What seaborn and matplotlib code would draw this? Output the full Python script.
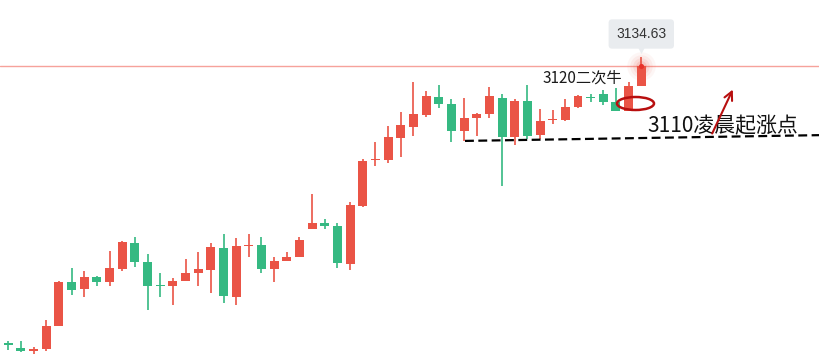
# candlestick chart with hand-drawn style notes (3120 / 3110 levels)

import matplotlib
matplotlib.use("Agg")
import matplotlib.pyplot as plt
from matplotlib.patches import Ellipse
import numpy as np
import pandas as pd
import seaborn as sns

# --- data (index points) ---
opens = [3043.3, 3041.6, 3040.6, 3041.2, 3048.8, 3063.3, 3061.0, 3065.0, 3063.4, 3067.7,
         3076.2, 3069.9, 3062.3, 3062.0, 3063.8, 3066.3, 3067.4, 3074.6, 3058.5, 3075.3,
         3075.5, 3067.7, 3070.3, 3071.6, 3080.8, 3082.8, 3081.8, 3069.3, 3088.4, 3103.5,
         3103.6, 3110.9, 3114.5, 3118.4, 3124.4, 3122.1, 3113.2, 3117.5, 3118.8, 3124.1,
         3111.2, 3123.1, 3111.8, 3116.7, 3116.8, 3121.1, 3124.1, 3125.4, 3122.7, 3119.9,
         3128.0]
highs = [3043.9, 3043.9, 3041.9, 3050.8, 3063.7, 3068.0, 3067.0, 3065.3, 3073.6, 3076.9,
         3078.2, 3072.6, 3066.3, 3064.7, 3070.9, 3073.2, 3076.2, 3079.2, 3077.9, 3079.2,
         3078.2, 3071.6, 3073.2, 3078.2, 3092.4, 3084.1, 3082.8, 3089.7, 3103.9, 3109.5,
         3114.8, 3119.4, 3129.3, 3126.4, 3128.4, 3123.7, 3124.1, 3119.1, 3127.7, 3125.4,
         3123.7, 3128.4, 3120.4, 3120.1, 3123.7, 3125.1, 3125.4, 3126.7, 3127.4, 3129.3,
         3137.6]
lows = [3040.9, 3040.2, 3039.6, 3040.7, 3048.8, 3059.0, 3058.4, 3062.1, 3062.1, 3067.1,
        3068.4, 3054.2, 3058.5, 3055.8, 3063.8, 3062.0, 3059.8, 3056.5, 3055.8, 3071.7,
        3066.4, 3063.3, 3070.3, 3071.6, 3080.8, 3080.8, 3068.0, 3067.3, 3088.1, 3101.6,
        3102.6, 3104.6, 3111.5, 3117.8, 3120.8, 3109.5, 3109.9, 3111.5, 3117.5, 3095.0,
        3108.5, 3110.5, 3110.5, 3115.5, 3116.5, 3120.8, 3122.7, 3121.8, 3119.9, 3119.9,
        3128.0]
closes = [3042.7, 3040.6, 3041.2, 3048.9, 3063.3, 3060.8, 3065.0, 3063.4, 3068.0, 3076.5,
          3070.0, 3062.0, 3062.1, 3063.7, 3066.3, 3067.6, 3074.9, 3058.8, 3075.2, 3075.5,
          3067.7, 3070.3, 3071.6, 3077.2, 3082.8, 3081.8, 3069.6, 3088.8, 3103.3, 3103.6,
          3111.2, 3115.2, 3118.8, 3124.7, 3122.1, 3113.2, 3117.5, 3118.8, 3124.7, 3111.2,
          3123.1, 3111.5, 3116.5, 3116.8, 3121.1, 3124.7, 3124.0, 3122.7, 3119.9, 3128.0,
          3134.63]

last_label = "3134.63"
note_top = "3120二次牛"
note_support = "3110凌晨起涨点"
support_start, support_end = 3109.9, 3111.8   # hand drawn dashed line (slightly sloped)

UP = "#EA5446"
DOWN = "#35B982"

# pixel geometry of the original screenshot
W, H = 819, 356
X0, STEP = 8.3, 12.66          # first candle centre / candle spacing, px
P_TOP, P_PER_PX = 3156.4, 0.33  # price at top edge, price per px


def to_data(px, py):
    return (px - X0) / STEP, P_TOP - P_PER_PX * py


def main():
    sns.set_theme(style="white")
    plt.rcParams['font.family'] = ['Noto Sans CJK SC', 'DejaVu Sans']

    df = pd.DataFrame({'open': opens, 'high': highs, 'low': lows, 'close': closes})
    df['x'] = np.arange(len(df))
    df['up'] = df['close'] >= df['open']
    df['color'] = np.where(df['up'], UP, DOWN)
    df['bottom'] = df[['open', 'close']].min(axis=1)
    df['body'] = (df['close'] - df['open']).abs().clip(lower=P_PER_PX * 1.2)

    fig = plt.figure(figsize=(W / 100, H / 100), dpi=100)
    ax = fig.add_axes([0, 0, 1, 1])
    ax.set_axis_off()

    x_left, _ = to_data(0, 0)
    x_right, _ = to_data(W, 0)
    ax.set_xlim(x_left, x_right)
    ax.set_ylim(P_TOP - P_PER_PX * H, P_TOP)

    # current price line
    last_x = df['x'].iloc[-1]
    last_close = df['close'].iloc[-1]
    ax.axhline(last_close, color='#F6A29B', lw=1, zorder=1)

    # wicks and bodies
    ax.vlines(df['x'], df['low'], df['high'], colors=df['color'], lw=1.2, zorder=2)
    ax.bar(df['x'], df['body'], bottom=df['bottom'], width=0.71,
           color=df['color'], linewidth=0, zorder=3)

    # glow on the last close
    for s, a in [(420, 0.05), (260, 0.07), (140, 0.10), (60, 0.15)]:
        sns.scatterplot(x=[last_x], y=[last_close], s=s, color=UP, alpha=a,
                        linewidth=0, ax=ax, zorder=4)
    sns.scatterplot(x=[last_x], y=[last_close], s=14, color='#E8322A',
                    linewidth=0, ax=ax, zorder=5)

    # tooltip
    tip_x, tip_y = last_x, to_data(0, 34)[1]
    ax.text(tip_x, tip_y, last_label, ha='center', va='center', fontsize=10,
            family=['Liberation Sans', 'DejaVu Sans'], color='#333333', zorder=6,
            bbox=dict(boxstyle='round,pad=0.55,rounding_size=0.25', fc='#E9ECEF', ec='none'))
    ax.scatter([tip_x], [to_data(0, 48.5)[1]], marker='v', s=45, color='#E9ECEF',
               linewidth=0, zorder=6)

    # hand-drawn notes
    tx, ty = to_data(543, 78)
    ax.text(tx, ty, note_top, ha='left', va='center', fontsize=11,
            color='#1a1a1a', fontweight='light', zorder=6)

    ex, ey = to_data(635.5, 103.5)
    ax.add_patch(Ellipse((ex, ey), width=37 / STEP, height=13 * P_PER_PX,
                         fill=False, ec='#B80F0F', lw=1.8, zorder=6))

    sx0, _ = to_data(465, 0)
    ax.plot([sx0, x_right], [support_start, support_end], color='black',
            lw=1.6, ls=(0, (4, 2)), zorder=6)

    nx, ny = to_data(647, 126)
    ax.text(nx, ny, note_support, ha='left', va='center', fontsize=15,
            color='#111111', fontweight='light', zorder=6)

    a0 = to_data(711, 136)
    a1 = to_data(734, 87)
    ax.annotate('', xy=a1, xytext=a0,
                arrowprops=dict(arrowstyle='->,head_length=0.5,head_width=0.25',
                                color='#B80F0F', lw=1.5), zorder=7)

    fig.savefig('out.png', dpi=100)


if __name__ == "__main__":
    main()
